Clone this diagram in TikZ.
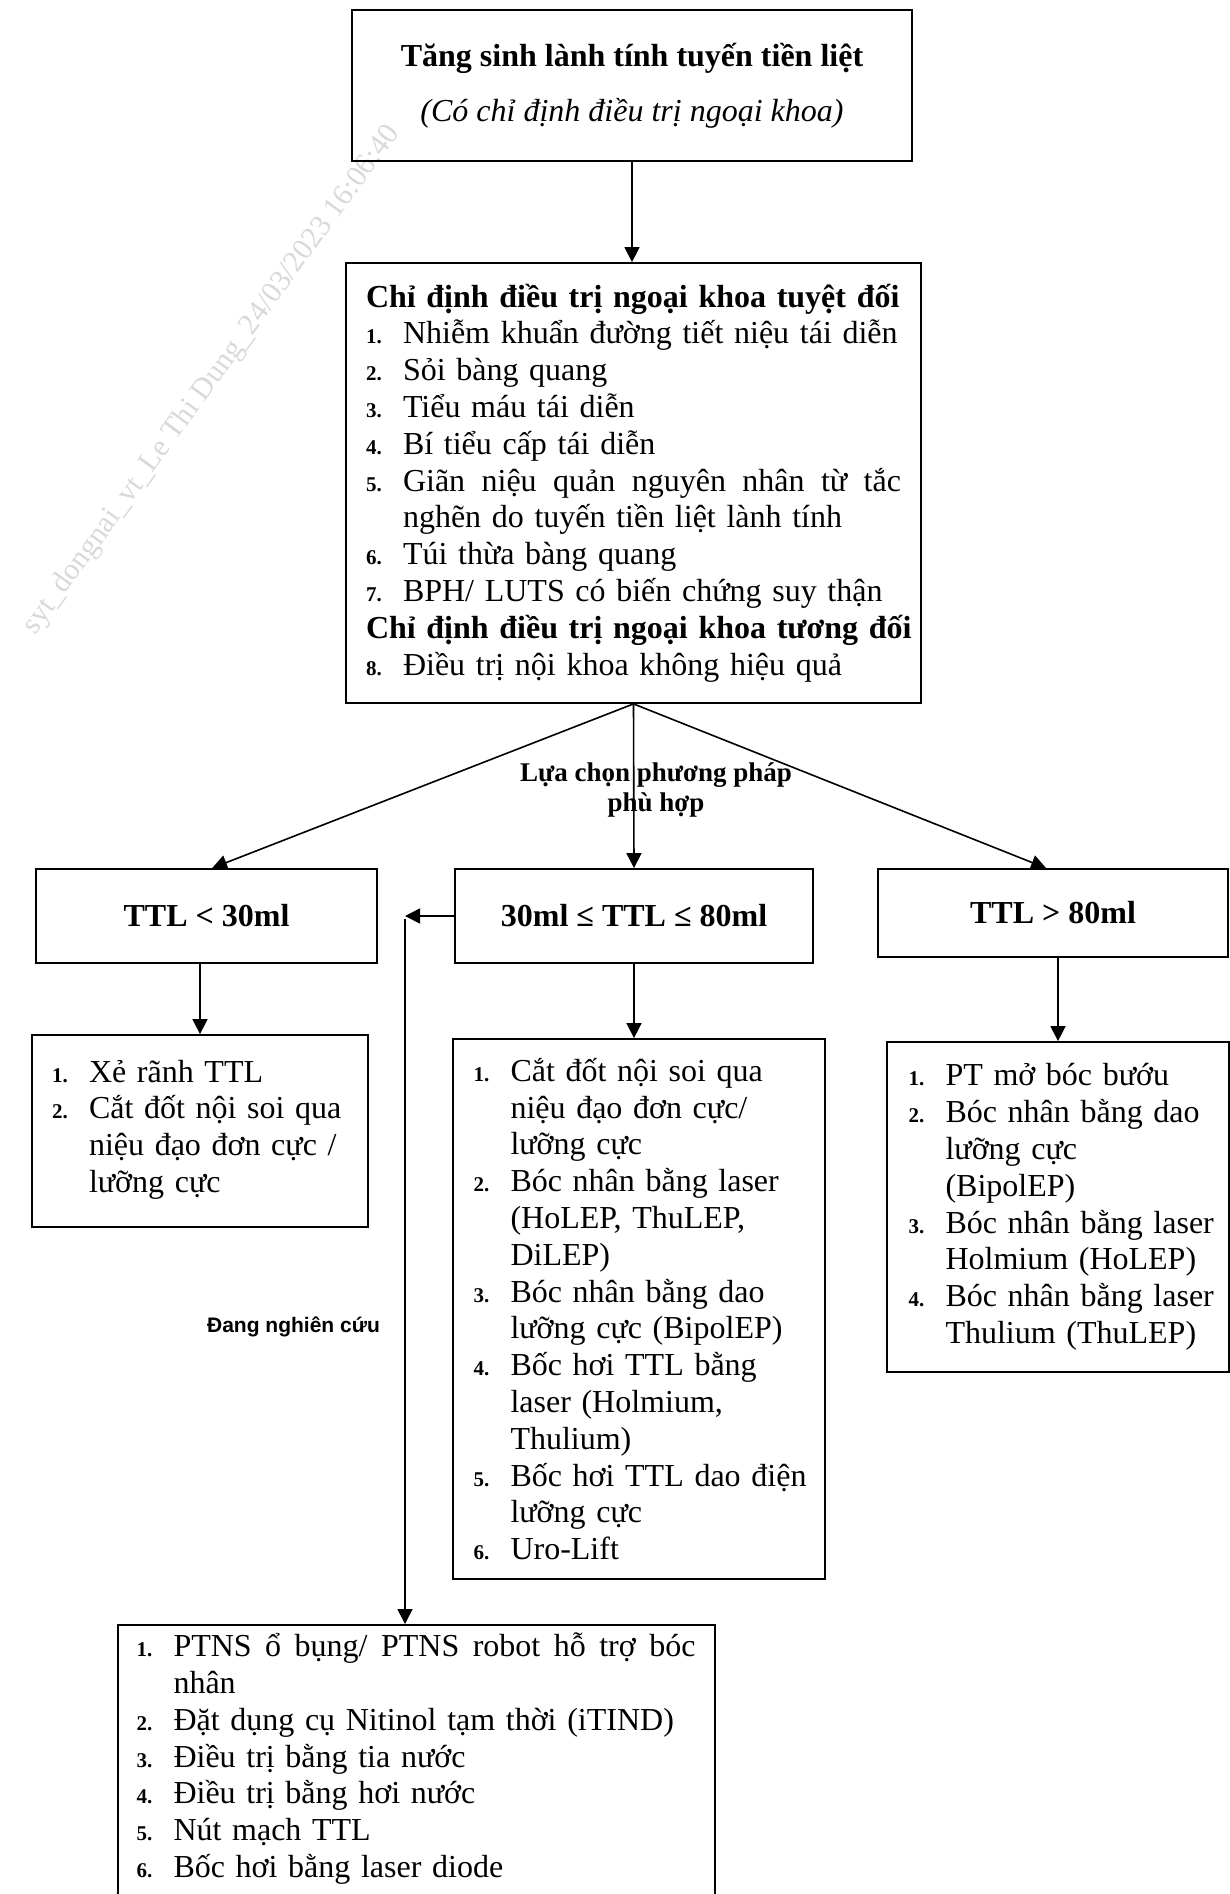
\documentclass[tikz,border=0pt]{standalone}
\usepackage{fontspec}
\setmainfont{Liberation Serif}
\newfontfamily\wsans{Liberation Sans}
\usetikzlibrary{arrows.meta,calc}
\newcommand\nb[1]{\makebox[37pt][l]{\fontsize{21}{21}\selectfont\bfseries #1}}
\newcommand\itm[2]{\mbox{\nb{#1}#2}}
\newcommand\cnt[1]{\mbox{\hspace*{37pt}#1}}
\newcommand\spreadto[2]{\hbox to #1{#2}}
\begin{document}
\begin{tikzpicture}[x=1pt,y=-1pt,
  box/.style={draw,line width=1.8pt,inner sep=0pt,font=\fontsize{32}{36.8}\selectfont},
  listbox/.style={box,align=left},
  headbox/.style={box,font=\fontsize{32}{36.8}\selectfont\bfseries},
  arr/.style={line width=1.6pt,-{Triangle[length=15pt,width=15pt]}},
  wmark/.style={text=gray!30,font=\fontsize{30}{30}\selectfont},
]
\useasboundingbox (0,0) rectangle (1230,1894);
\clip (0,0) rectangle (1230,1894);

\node[wmark,rotate=54] (wm) at (212,380) {syt\_dongnai\_vt\_Le Thi Dung\_24/03/2023 16:06:40};

\node[box,line width=2.8pt,minimum width=560pt,minimum height=151pt,align=center] (top) at (632,85.5)
  {\textbf{Tăng sinh lành tính tuyến tiền liệt}\\[18pt]\textit{(Có chỉ định điều trị ngoại khoa)}};

\node[listbox,minimum width=575pt,minimum height=440pt,text width=535pt] (ind) at (633.5,483) {%
\mbox{\textbf{Chỉ định điều trị ngoại khoa tuyệt đối}}\\
\itm{1.}{Nhiễm khuẩn đường tiết niệu tái diễn}\\
\itm{2.}{Sỏi bàng quang}\\
\itm{3.}{Tiểu máu tái diễn}\\
\itm{4.}{Bí tiểu cấp tái diễn}\\
\itm{5.}{\spreadto{498pt}{Giãn\hfill niệu\hfill quản\hfill nguyên\hfill nhân\hfill từ\hfill tắc}}\\
\cnt{nghẽn do tuyến tiền liệt lành tính}\\
\itm{6.}{Túi thừa bàng quang}\\
\itm{7.}{BPH/ LUTS có biến chứng suy thận}\\
\mbox{\textbf{Chỉ định điều trị ngoại khoa tương đối}}\\
\itm{8.}{Điều trị nội khoa không hiệu quả}};

\node[font=\fontsize{27}{30}\selectfont\bfseries,align=center] (lbl) at (656,790) {Lựa chọn phương pháp\\phù hợp};

\node[headbox,minimum width=341pt,minimum height=94pt] (b1) at (206.5,916) {TTL < 30ml};
\node[headbox,minimum width=358pt,minimum height=94pt] (b2) at (634,916) {30ml ≤ TTL ≤ 80ml};
\node[headbox,minimum width=350pt,minimum height=88pt] (b3) at (1053,913) {TTL > 80ml};

\node[listbox,minimum width=336pt,minimum height=192pt,text width=296pt] (A) at (200,1131) {%
\itm{1.}{Xẻ rãnh TTL}\\
\itm{2.}{Cắt đốt nội soi qua}\\
\cnt{niệu đạo đơn cực /}\\
\cnt{lưỡng cực}\\[-27pt]
\mbox{}};

\node[listbox,minimum width=372pt,minimum height=540pt,text width=331pt] (B) at (639,1309) {%
\itm{1.}{Cắt đốt nội soi qua}\\
\cnt{niệu đạo đơn cực/}\\
\cnt{lưỡng cực}\\
\itm{2.}{Bóc nhân bằng laser}\\
\cnt{(HoLEP, ThuLEP,}\\
\cnt{DiLEP)}\\
\itm{3.}{Bóc nhân bằng dao}\\
\cnt{lưỡng cực (BipolEP)}\\
\itm{4.}{Bốc hơi TTL bằng}\\
\cnt{laser (Holmium,}\\
\cnt{Thulium)}\\
\itm{5.}{Bốc hơi TTL dao điện}\\
\cnt{lưỡng cực}\\
\itm{6.}{Uro-Lift}};

\node[listbox,minimum width=342pt,minimum height=330pt,text width=299pt] (C) at (1058,1207) {%
\itm{1.}{PT mở bóc bướu}\\
\itm{2.}{Bóc nhân bằng dao}\\
\cnt{lưỡng cực}\\
\cnt{(BipolEP)}\\
\itm{3.}{Bóc nhân bằng laser}\\
\cnt{Holmium (HoLEP)}\\
\itm{4.}{Bóc nhân bằng laser}\\
\cnt{Thulium (ThuLEP)}};

\node[listbox,anchor=north,inner ysep=8pt,minimum width=597pt,text width=560pt] (D) at (416.5,1624) {%
\itm{1.}{\spreadto{522pt}{PTNS\hfill ổ\hfill bụng/\hfill PTNS\hfill robot\hfill hỗ\hfill trợ\hfill bóc}}\\
\cnt{nhân}\\
\itm{2.}{Đặt dụng cụ Nitinol tạm thời (iTIND)}\\
\itm{3.}{Điều trị bằng tia nước}\\
\itm{4.}{Điều trị bằng hơi nước}\\
\itm{5.}{Nút mạch TTL}\\
\itm{6.}{Bốc hơi bằng laser diode}\\
\mbox{}};

\node[font=\wsans\bfseries\fontsize{21}{24}\selectfont] (dn) at (293.5,1327) {Đang nghiên cứu};

\draw[arr] (top.south) -- (top.south |- ind.north);
\draw[arr] (ind.south) -- ([xshift=177pt]b1.north west);
\draw[arr] (ind.south) -- (b2.north);
\draw[arr] (ind.south) -- ([xshift=169pt]b3.north west);
\draw[arr] (A.north |- b1.south) -- (A.north);
\draw[arr] (b2.south) -- (b2.south |- B.north);
\draw[arr] (C.north |- b3.south) -- (C.north);
\coordinate (k) at (405,916);
\draw[arr] (b2.west) -- (k);
\draw[arr] ([yshift=-3pt]k) -- (k |- D.north);
\end{tikzpicture}
\end{document}
